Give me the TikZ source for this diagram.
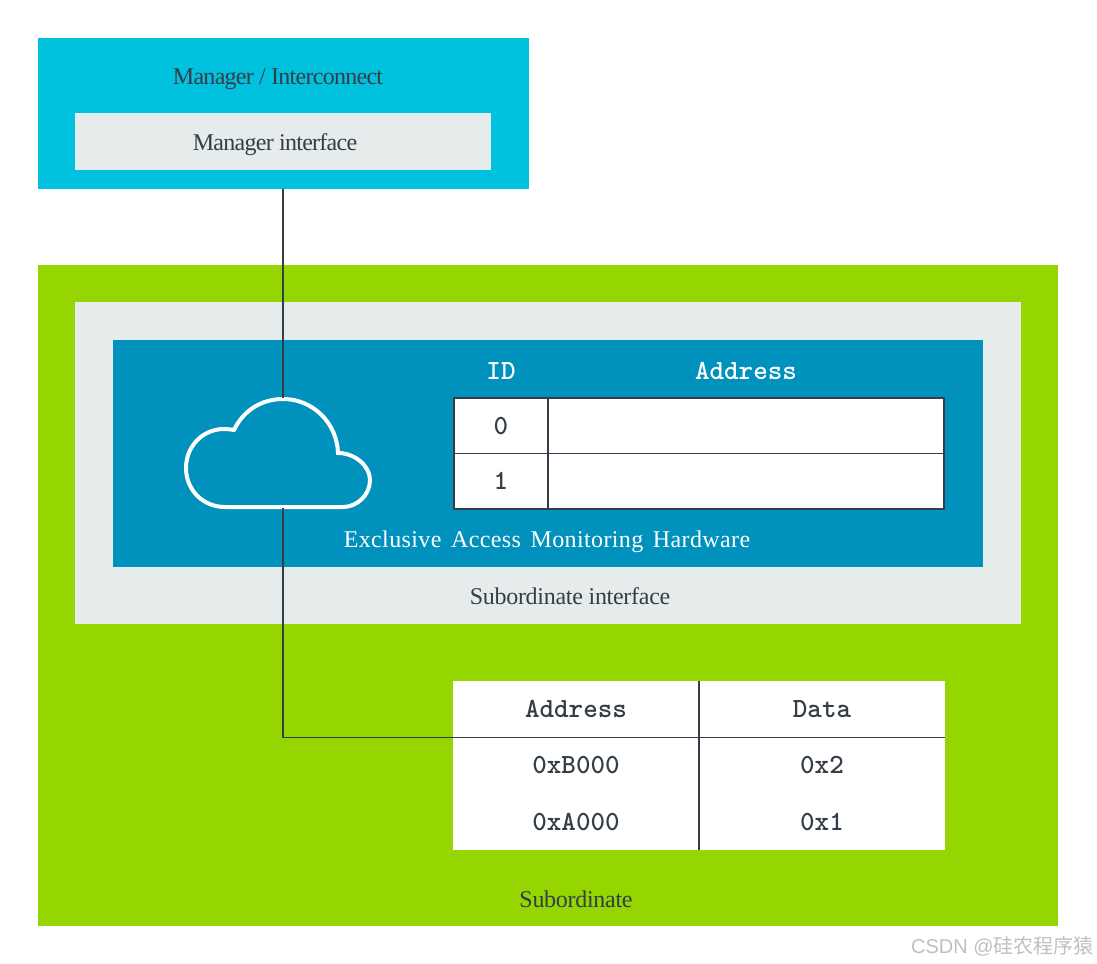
\documentclass[tikz,border=0pt]{standalone}
\usepackage{fontspec}
\setmainfont{Liberation Serif}
\newfontfamily\tightfont[LetterSpace=-3]{Liberation Serif}
\newfontfamily\snugfont[LetterSpace=-1.2]{Liberation Serif}
\newfontfamily\wideserif[LetterSpace=1.6,WordSpace=1.5]{Liberation Serif}
\newfontfamily\markfont{Liberation Sans}
\newfontfamily\cjkfont{Noto Sans CJK SC}
\usepackage{xcolor}
\usetikzlibrary{positioning}
\definecolor{mgrcyan}{HTML}{00C1DE}
\definecolor{subgreen}{HTML}{95D600}
\definecolor{ifgrey}{HTML}{E5ECEB}
\definecolor{monblue}{HTML}{0091BD}
\definecolor{inkdark}{HTML}{333E48}

\begin{document}
\begin{tikzpicture}[
  x=0.75pt,y=-0.75pt,
  node distance=0pt,
  font=\fontsize{18}{20}\selectfont,
  block/.style={anchor=north west,inner sep=0pt,outer sep=0pt},
  txt/.style={text=inkdark,inner sep=0pt,anchor=base},
  code/.style={font=\ttfamily\bfseries\fontsize{20.8}{22}\selectfont},
  hdr/.style={code,text=white,inner sep=0pt},
  cell/.style={draw=inkdark,fill=white,text=inkdark,code,inner sep=0pt,outer sep=0pt,line width=1pt,minimum height=41.6pt},
  memcell/.style={fill=white,text=inkdark,code,inner sep=0pt,outer sep=0pt,minimum width=184.5pt,minimum height=42.2pt},
  wire/.style={draw=inkdark,line width=0.9pt}
]
\useasboundingbox (0,0) rectangle (1097,964);
% outer blocks
\node[block,fill=mgrcyan,minimum width=368.25pt,minimum height=113.25pt] (mgr) at (38,38) {};
\node[block,fill=ifgrey,minimum width=312pt,minimum height=42.75pt] (mgrif) at (75,113) {};
\node[block,fill=subgreen,minimum width=765pt,minimum height=495.75pt] (sub) at (38,265) {};
\node[block,fill=ifgrey,minimum width=709.5pt,minimum height=241.5pt] (subif) at (75,302) {};
\node[block,fill=monblue,minimum width=652.5pt,minimum height=170.25pt] (mon) at (113,340) {};
% labels
\node[txt] (mgrlbl) at (278,84) {\tightfont Manager / Interconnect};
\node[txt] (mgriflbl) at (275,150) {\tightfont Manager interface};
\node[txt] (subiflbl) at (570,604) {\snugfont Subordinate interface};
\node[txt] (sublbl) at (576,907) {\snugfont Subordinate};
\node[txt,text=white] (monlbl) at (547,547) {\wideserif Exclusive Access Monitoring Hardware};
% monitor table
\node[cell,anchor=north west,minimum width=70.5pt] (id0) at (454,398) {0};
\node[cell,right=of id0,minimum width=297pt] (addr0) {};
\node[cell,below=of id0,minimum width=70.5pt] (id1) {1};
\node[cell,right=of id1,minimum width=297pt] (addr1) {};
\node[hdr] (idhdr) at (501,371) {ID};
\node[hdr] (addrhdr) at (746,371) {Address};
% memory table
\node[memcell,anchor=north west] (maddr) at (453,681) {Address};
\node[memcell,right=of maddr] (mdata) {Data};
\node[memcell,below=of maddr] (mb) {0xB000};
\node[memcell,right=of mb] (mbv) {0x2};
\node[memcell,below=of mb] (ma) {0xA000};
\node[memcell,right=of ma] (mav) {0x1};
\draw[wire] (mdata.north west) -- (mav.south west);
\draw[wire] (maddr.south west) -- (mdata.south east);
% cloud
\coordinate (cloudtop) at (283,399);
\coordinate (cloudbot) at (283,507);
\draw[white,line width=3pt] (225,507) .. controls (203,507) and (186,490) .. (186,468)
  .. controls (186,446) and (203,429) .. (224,429)
  .. controls (228,429) and (231,429.5) .. (234,430)
  .. controls (243,411) and (261,399) .. (cloudtop)
  .. controls (313,399) and (337,423) .. (338,453)
  .. controls (355,453) and (370,466) .. (370,480)
  .. controls (370,495) and (357,507) .. (343,507) -- cycle;
% connectors
\draw[wire] (mgr.south -| cloudtop) -- ([yshift=1pt]cloudtop);
\draw[wire] ([yshift=-1pt]cloudbot) |- (maddr.south west);
% watermark
\node[text=black!25,inner sep=0pt,font=\fontsize{15}{17}\selectfont,anchor=base east] (mark) at (1094,953) {\markfont CSDN @\cjkfont 硅农程序猿};
\end{tikzpicture}
\end{document}
